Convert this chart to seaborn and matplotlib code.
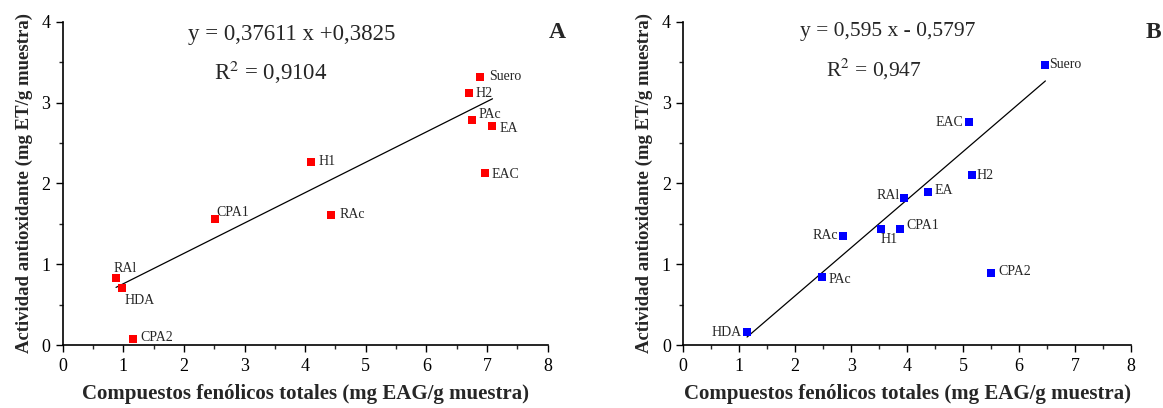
import numpy as np
import pandas as pd
import seaborn as sns
import matplotlib.pyplot as plt
from matplotlib.ticker import MultipleLocator

# Panel A data (red)
labels_a = ['Suero', 'H2', 'PAc', 'EA', 'H1', 'EAC', 'CPA1', 'RAc', 'RAl', 'HDA', 'CPA2']
x_a = [6.89, 6.70, 6.75, 7.09, 4.09, 6.96, 2.51, 4.43, 0.88, 0.98, 1.16]
y_a = [3.32, 3.12, 2.79, 2.71, 2.27, 2.13, 1.56, 1.61, 0.83, 0.71, 0.08]
slope_a, icpt_a = 0.37611, 0.3825
eq_a = 'y = 0,37611 x +0,3825'
r2_a = 'R$^{2}$ = 0,9104'

# Panel B data (blue)
labels_b = ['Suero', 'EAC', 'H2', 'EA', 'RAl', 'H1', 'CPA1', 'RAc', 'PAc', 'CPA2', 'HDA']
x_b = [6.47, 5.10, 5.16, 4.37, 3.95, 3.53, 3.87, 2.86, 2.48, 5.50, 1.14]
y_b = [3.47, 2.76, 2.10, 1.89, 1.82, 1.44, 1.44, 1.35, 0.84, 0.89, 0.16]
slope_b, icpt_b = 0.595, -0.5797
eq_b = 'y = 0,595 x - 0,5797'
r2_b = 'R$^{2}$ = 0,947'

x_label = 'Compuestos fenólicos totales (mg EAG/g muestra)'
y_label = 'Actividad antioxidante (mg ET/g muestra)'

sns.set_style("ticks")
plt.rcParams['font.family'] = ['Liberation Serif', 'DejaVu Serif']
plt.rcParams['mathtext.fontset'] = 'stix'

# label offsets in points (dx, dy, ha, va)
offs_a = {
    'Suero': (6, 0, 'left', 'center'), 'H2': (5, 0, 'left', 'center'),
    'PAc': (5, 4, 'left', 'center'), 'EA': (5, -2, 'left', 'center'),
    'H1': (6, 0, 'left', 'center'), 'EAC': (5, -1, 'left', 'center'),
    'CPA1': (1, 5, 'left', 'center'), 'RAc': (6, 0, 'left', 'center'),
    'RAl': (-2, 7, 'left', 'center'), 'HDA': (2, -9, 'left', 'center'),
    'CPA2': (5, 1, 'left', 'center'),
}
offs_b = {
    'Suero': (3, 0, 'left', 'center'), 'EAC': (-4, 0, 'right', 'center'),
    'H2': (3, 0, 'left', 'center'), 'EA': (5, 1, 'left', 'center'),
    'RAl': (-3, 2, 'right', 'center'), 'H1': (0, -8, 'left', 'center'),
    'CPA1': (5, 2, 'left', 'center'), 'RAc': (-4, 0, 'right', 'center'),
    'PAc': (5, -2, 'left', 'center'), 'CPA2': (5, 1, 'left', 'center'),
    'HDA': (-4, 0, 'right', 'center'),
}

fig = plt.figure(figsize=(11.63, 4.08), dpi=100)
ax1 = fig.add_axes([0.0539, 0.1544, 0.417, 0.7917])
ax2 = fig.add_axes([0.5875, 0.1544, 0.385, 0.7917])


def draw_panel(ax, xs, ys, labs, offs, color, slope, icpt, eq, r2, eq_pos, r2_pos, eq_fs, letter, letter_x):
    df = pd.DataFrame({'x': xs, 'y': ys, 'lab': labs})
    sns.scatterplot(data=df, x='x', y='y', marker='s', color=color, s=34,
                    linewidth=0, ax=ax, zorder=3)
    xl = np.array([df['x'].min(), df['x'].max()])
    ax.plot(xl, slope * xl + icpt, color='black', linewidth=0.9, zorder=2)
    for _, r in df.iterrows():
        dx, dy, ha, va = offs[r['lab']]
        ax.annotate(r['lab'], (r['x'], r['y']), xytext=(dx, dy), textcoords='offset points',
                    ha=ha, va=va, fontsize=10)
    ax.text(eq_pos[0], eq_pos[1], eq, ha='center', va='center', fontsize=eq_fs)
    ax.text(r2_pos[0], r2_pos[1], r2, ha='center', va='center', fontsize=eq_fs)
    ax.text(letter_x, 0.966, letter, transform=ax.transAxes, ha='center', va='center',
            fontsize=17, fontweight='bold', clip_on=False)
    ax.set_xlim(0, 8)
    ax.set_ylim(0, 4)
    ax.xaxis.set_major_locator(MultipleLocator(1))
    ax.xaxis.set_minor_locator(MultipleLocator(0.5))
    ax.yaxis.set_major_locator(MultipleLocator(1))
    ax.yaxis.set_minor_locator(MultipleLocator(0.5))
    ax.tick_params(which='major', direction='out', length=5, width=1, labelsize=13, pad=4, colors='black')
    ax.tick_params(which='minor', direction='out', length=3, width=1)
    for side in ['top', 'right']:
        ax.spines[side].set_visible(False)
    for side in ['left', 'bottom']:
        ax.spines[side].set_linewidth(1.2)
        ax.spines[side].set_color('black')
    ax.set_xlabel(x_label, fontsize=15, fontweight='bold', labelpad=7)
    ax.set_ylabel(y_label, fontsize=13.5, fontweight='bold', labelpad=6)


draw_panel(ax1, x_a, y_a, labels_a, offs_a, '#ff0000', slope_a, icpt_a, eq_a, r2_a,
           (3.77, 3.84), (3.43, 3.37), 16.5, 'A', 1.019)
draw_panel(ax2, x_b, y_b, labels_b, offs_b, '#0000ff', slope_b, icpt_b, eq_b, r2_b,
           (3.66, 3.88), (3.41, 3.41), 15.5, 'B', 1.049)

fig.savefig('out.png', dpi=100, facecolor='white')
